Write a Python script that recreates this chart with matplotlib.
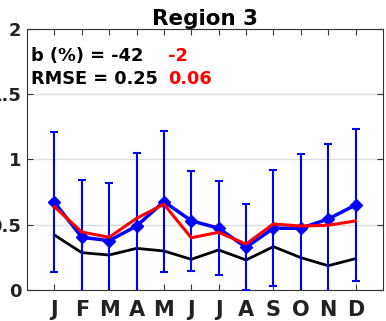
import matplotlib
matplotlib.use("Agg")
import matplotlib.pyplot as plt
import numpy as np

months = ["J", "F", "M", "A", "M", "J", "J", "A", "S", "O", "N", "D"]

# observed monthly mean and spread (blue), two model runs (black, red)
obs_mean = [0.672, 0.404, 0.378, 0.490, 0.677, 0.531, 0.473, 0.327, 0.473, 0.473, 0.544, 0.651]
obs_std = [0.536, 0.439, 0.444, 0.562, 0.542, 0.384, 0.360, 0.330, 0.445, 0.572, 0.572, 0.580]
model_old = [0.421, 0.286, 0.268, 0.319, 0.299, 0.235, 0.307, 0.230, 0.332, 0.248, 0.186, 0.240]
model_new = [0.638, 0.444, 0.404, 0.549, 0.657, 0.400, 0.442, 0.352, 0.506, 0.490, 0.496, 0.529]

yticks = [0, 0.5, 1, 1.5, 2]
ytick_labels = ["0", "0.5", "1", "1.5", "2"]

stats_old = ["b (%) = -42", "RMSE = 0.25"]
stats_new = ["-2", "0.06"]


def main():
    x = np.arange(1, 13)

    fig = plt.figure(figsize=(3.86, 3.21), dpi=100)
    ax = fig.add_axes([0.070, 0.0966, 0.922, 0.8131])

    ax.errorbar(x, obs_mean, yerr=obs_std, color="blue", lw=2.5,
                elinewidth=1.5, capsize=3, capthick=1.5,
                marker="D", markersize=6.5, zorder=3)
    ax.plot(x, model_old, color="black", lw=2, zorder=2)
    ax.plot(x, model_new, color="red", lw=2.2, zorder=4)

    ax.set_xlim(0, 13)
    ax.set_ylim(0, 2)
    ax.set_xticks(x)
    ax.set_xticklabels(months, fontsize=15, fontweight="bold", color="#222222")
    ax.set_yticks(yticks)
    ax.set_yticklabels(ytick_labels, fontsize=13, fontweight="bold", color="#222222")
    ax.tick_params(axis="both", direction="in", length=4, width=0.8,
                   top=True, right=True, color="#333333")
    ax.tick_params(axis="x", pad=7)
    ax.tick_params(axis="y", pad=4)
    ax.yaxis.grid(True, color="#dddddd", lw=1)
    ax.set_axisbelow(True)
    for s in ax.spines.values():
        s.set_color("#333333")
        s.set_linewidth(0.8)

    ax.set_title("Region 3", fontsize=15.5, fontweight="bold", pad=3)

    for i, (a, b) in enumerate(zip(stats_old, stats_new)):
        yy = 0.895 - i * 0.085
        ax.text(0.011, yy, a, transform=ax.transAxes, fontsize=12.8,
                fontweight="bold", va="center", ha="left")
        ax.text(0.396, yy, b, transform=ax.transAxes, fontsize=12.8,
                fontweight="bold", va="center", ha="left", color="red")

    fig.savefig("out.png", dpi=100)


if __name__ == "__main__":
    main()
